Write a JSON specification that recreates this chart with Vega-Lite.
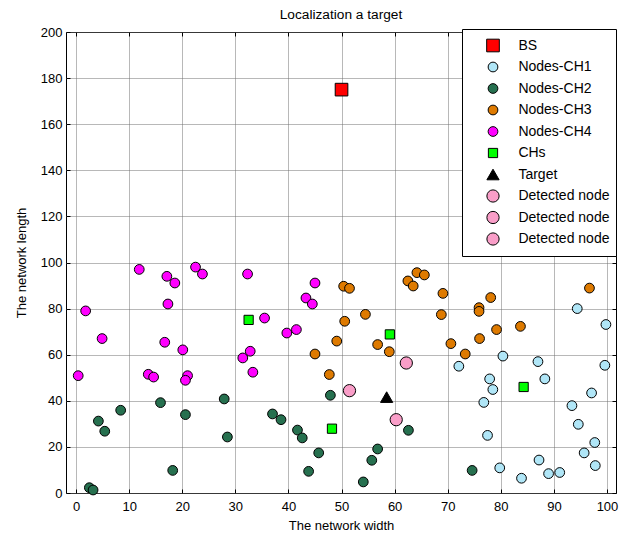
{
  "$schema": "https://vega.github.io/schema/vega-lite/v6.json",
  "width": 550,
  "height": 461,
  "autosize": {"type": "none"},
  "padding": {"left": 66, "top": 32, "right": 11, "bottom": 42},
  "title": {"text": "Localization a target", "font": "Liberation Sans", "fontSize": 13.7, "fontWeight": "normal", "color": "black", "frame": "group", "anchor": "middle", "offset": 4},
  "config": {
    "view": {"stroke": "black", "strokeWidth": 1},
    "axis": {"labelFont": "Liberation Sans", "titleFont": "Liberation Sans", "labelColor": "black", "titleColor": "black", "titleFontWeight": "normal", "tickColor": "black", "domain": false},
    "legend": {"strokeWidth": 1}
  },
  "data": {"values": [
    {"x": 50, "y": 175, "group": "BS"},
    {"x": 72.1, "y": 55.0, "group": "Nodes-CH1"},
    {"x": 80.4, "y": 59.4, "group": "Nodes-CH1"},
    {"x": 87.0, "y": 57.0, "group": "Nodes-CH1"},
    {"x": 99.6, "y": 55.4, "group": "Nodes-CH1"},
    {"x": 94.4, "y": 80.0, "group": "Nodes-CH1"},
    {"x": 99.8, "y": 73.1, "group": "Nodes-CH1"},
    {"x": 77.9, "y": 49.5, "group": "Nodes-CH1"},
    {"x": 88.3, "y": 49.5, "group": "Nodes-CH1"},
    {"x": 78.5, "y": 44.9, "group": "Nodes-CH1"},
    {"x": 97.1, "y": 43.4, "group": "Nodes-CH1"},
    {"x": 76.8, "y": 39.3, "group": "Nodes-CH1"},
    {"x": 93.4, "y": 37.9, "group": "Nodes-CH1"},
    {"x": 94.6, "y": 29.8, "group": "Nodes-CH1"},
    {"x": 77.5, "y": 25.0, "group": "Nodes-CH1"},
    {"x": 97.7, "y": 21.9, "group": "Nodes-CH1"},
    {"x": 95.7, "y": 17.4, "group": "Nodes-CH1"},
    {"x": 87.2, "y": 14.3, "group": "Nodes-CH1"},
    {"x": 97.8, "y": 11.9, "group": "Nodes-CH1"},
    {"x": 79.8, "y": 10.9, "group": "Nodes-CH1"},
    {"x": 91.1, "y": 8.9, "group": "Nodes-CH1"},
    {"x": 89.0, "y": 8.4, "group": "Nodes-CH1"},
    {"x": 83.9, "y": 6.4, "group": "Nodes-CH1"},
    {"x": 8.4, "y": 35.9, "group": "Nodes-CH2"},
    {"x": 4.2, "y": 31.2, "group": "Nodes-CH2"},
    {"x": 5.4, "y": 26.8, "group": "Nodes-CH2"},
    {"x": 15.9, "y": 39.2, "group": "Nodes-CH2"},
    {"x": 20.6, "y": 34.0, "group": "Nodes-CH2"},
    {"x": 18.2, "y": 9.8, "group": "Nodes-CH2"},
    {"x": 2.5, "y": 2.3, "group": "Nodes-CH2"},
    {"x": 3.2, "y": 1.3, "group": "Nodes-CH2"},
    {"x": 27.9, "y": 40.8, "group": "Nodes-CH2"},
    {"x": 28.5, "y": 24.3, "group": "Nodes-CH2"},
    {"x": 37.0, "y": 34.3, "group": "Nodes-CH2"},
    {"x": 38.6, "y": 31.8, "group": "Nodes-CH2"},
    {"x": 41.7, "y": 27.3, "group": "Nodes-CH2"},
    {"x": 42.6, "y": 23.9, "group": "Nodes-CH2"},
    {"x": 45.7, "y": 17.4, "group": "Nodes-CH2"},
    {"x": 43.8, "y": 9.4, "group": "Nodes-CH2"},
    {"x": 47.9, "y": 42.4, "group": "Nodes-CH2"},
    {"x": 62.6, "y": 27.2, "group": "Nodes-CH2"},
    {"x": 56.8, "y": 19.1, "group": "Nodes-CH2"},
    {"x": 55.7, "y": 14.2, "group": "Nodes-CH2"},
    {"x": 54.1, "y": 4.8, "group": "Nodes-CH2"},
    {"x": 74.6, "y": 9.8, "group": "Nodes-CH2"},
    {"x": 45.0, "y": 60.3, "group": "Nodes-CH3"},
    {"x": 64.2, "y": 95.6, "group": "Nodes-CH3"},
    {"x": 65.6, "y": 94.6, "group": "Nodes-CH3"},
    {"x": 62.5, "y": 92.0, "group": "Nodes-CH3"},
    {"x": 63.5, "y": 89.8, "group": "Nodes-CH3"},
    {"x": 69.1, "y": 86.6, "group": "Nodes-CH3"},
    {"x": 50.4, "y": 89.7, "group": "Nodes-CH3"},
    {"x": 51.5, "y": 88.8, "group": "Nodes-CH3"},
    {"x": 54.5, "y": 77.5, "group": "Nodes-CH3"},
    {"x": 50.6, "y": 74.5, "group": "Nodes-CH3"},
    {"x": 68.8, "y": 77.4, "group": "Nodes-CH3"},
    {"x": 49.1, "y": 65.9, "group": "Nodes-CH3"},
    {"x": 56.8, "y": 64.4, "group": "Nodes-CH3"},
    {"x": 59.0, "y": 61.3, "group": "Nodes-CH3"},
    {"x": 70.6, "y": 64.8, "group": "Nodes-CH3"},
    {"x": 47.7, "y": 51.4, "group": "Nodes-CH3"},
    {"x": 96.7, "y": 88.9, "group": "Nodes-CH3"},
    {"x": 78.1, "y": 84.8, "group": "Nodes-CH3"},
    {"x": 75.9, "y": 80.4, "group": "Nodes-CH3"},
    {"x": 75.9, "y": 78.8, "group": "Nodes-CH3"},
    {"x": 79.2, "y": 70.9, "group": "Nodes-CH3"},
    {"x": 83.7, "y": 72.3, "group": "Nodes-CH3"},
    {"x": 76.0, "y": 67.0, "group": "Nodes-CH3"},
    {"x": 73.3, "y": 60.3, "group": "Nodes-CH3"},
    {"x": 11.9, "y": 97.0, "group": "Nodes-CH4"},
    {"x": 17.1, "y": 94.0, "group": "Nodes-CH4"},
    {"x": 18.6, "y": 91.1, "group": "Nodes-CH4"},
    {"x": 22.5, "y": 98.0, "group": "Nodes-CH4"},
    {"x": 23.8, "y": 95.0, "group": "Nodes-CH4"},
    {"x": 1.8, "y": 79.0, "group": "Nodes-CH4"},
    {"x": 17.3, "y": 82.0, "group": "Nodes-CH4"},
    {"x": 4.9, "y": 67.0, "group": "Nodes-CH4"},
    {"x": 16.7, "y": 65.4, "group": "Nodes-CH4"},
    {"x": 20.1, "y": 62.1, "group": "Nodes-CH4"},
    {"x": 0.4, "y": 50.9, "group": "Nodes-CH4"},
    {"x": 13.6, "y": 51.5, "group": "Nodes-CH4"},
    {"x": 14.6, "y": 50.3, "group": "Nodes-CH4"},
    {"x": 21.0, "y": 50.9, "group": "Nodes-CH4"},
    {"x": 20.6, "y": 48.9, "group": "Nodes-CH4"},
    {"x": 32.3, "y": 95.0, "group": "Nodes-CH4"},
    {"x": 45.0, "y": 91.1, "group": "Nodes-CH4"},
    {"x": 43.3, "y": 84.6, "group": "Nodes-CH4"},
    {"x": 44.5, "y": 82.0, "group": "Nodes-CH4"},
    {"x": 35.5, "y": 75.9, "group": "Nodes-CH4"},
    {"x": 39.7, "y": 69.4, "group": "Nodes-CH4"},
    {"x": 41.5, "y": 70.9, "group": "Nodes-CH4"},
    {"x": 32.8, "y": 61.5, "group": "Nodes-CH4"},
    {"x": 31.4, "y": 58.6, "group": "Nodes-CH4"},
    {"x": 33.3, "y": 52.4, "group": "Nodes-CH4"},
    {"x": 32.5, "y": 75.1, "group": "CHs"},
    {"x": 59.1, "y": 68.8, "group": "CHs"},
    {"x": 48.2, "y": 27.9, "group": "CHs"},
    {"x": 84.3, "y": 46.0, "group": "CHs"},
    {"x": 58.5, "y": 41.6, "group": "Target"},
    {"x": 62.2, "y": 56.4, "group": "Detected node 1"},
    {"x": 51.5, "y": 44.4, "group": "Detected node 2"},
    {"x": 60.3, "y": 31.8, "group": "Detected node 3"}
  ]},
  "layer": [
    {
      "mark": {"type": "point", "filled": true, "stroke": "black", "strokeWidth": 1, "opacity": 1},
      "encoding": {
        "x": {"field": "x", "type": "quantitative",
          "scale": {"domain": [-1.9, 101.7], "nice": false, "zero": false},
          "axis": {"orient": "bottom", "values": [0,10,20,30,40,50,60,70,80,90,100], "title": "The network width", "titleFontSize": 13, "titlePadding": 6, "labelFontSize": 13, "labelPadding": 11, "tickSize": -4, "labelFlush": false, "grid": true, "gridColor": "#707070", "gridDash": [1, 1]}},
        "y": {"field": "y", "type": "quantitative",
          "scale": {"domain": [0, 200], "nice": false, "zero": false},
          "axis": {"orient": "left", "values": [0,20,40,60,80,100,120,140,160,180,200], "title": "The network length", "titleFontSize": 13, "titlePadding": 12, "labelFontSize": 13, "labelPadding": 8, "tickSize": -4, "labelFlush": false, "grid": true, "gridColor": "#707070", "gridDash": [1, 1]}},
        "fill": {"field": "group", "type": "nominal",
          "scale": {"domain": ["BS","Nodes-CH1","Nodes-CH2","Nodes-CH3","Nodes-CH4","CHs","Target","Detected node 1","Detected node 2","Detected node 3"],
                    "range": ["#ff0000","#b0e6f7","#26704f","#de7a00","#ff00ff","#00ff00","#000000","#f99ec8","#f99ec8","#f99ec8"]},
          "legend": {"title": null, "orient": "none", "legendX": 396, "legendY": -3, "strokeColor": "black", "fillColor": "white", "padding": 6, "labelFont": "Liberation Sans", "labelFontSize": 14, "labelColor": "black", "symbolStrokeColor": "black", "symbolStrokeWidth": 1, "symbolOpacity": 1, "clipHeight": 21, "rowPadding": 0.5, "symbolOffset": 18, "labelOffset": 18.4, "labelExpr": "indexof(datum.label, 'Detected') == 0 ? 'Detected node' : datum.label"}},
        "shape": {"field": "group", "type": "nominal",
          "scale": {"domain": ["BS","Nodes-CH1","Nodes-CH2","Nodes-CH3","Nodes-CH4","CHs","Target","Detected node 1","Detected node 2","Detected node 3"],
                    "range": ["square","circle","circle","circle","circle","square","triangle-up","circle","circle","circle"]}},
        "size": {"field": "group", "type": "nominal",
          "scale": {"type": "ordinal", "domain": ["BS","Nodes-CH1","Nodes-CH2","Nodes-CH3","Nodes-CH4","CHs","Target","Detected node 1","Detected node 2","Detected node 3"],
                    "range": [160,95,95,95,95,85,150,150,150,150]}}
      }
    },
    {
      "mark": {"type": "point", "opacity": 0},
      "encoding": {
        "x": {"field": "x", "type": "quantitative", "axis": {"orient": "top", "values": [0,10,20,30,40,50,60,70,80,90,100], "labels": false, "title": null, "tickSize": -4, "grid": false}},
        "y": {"field": "y", "type": "quantitative", "axis": {"orient": "right", "values": [0,20,40,60,80,100,120,140,160,180,200], "labels": false, "title": null, "tickSize": -4, "grid": false}}
      }
    }
  ],
  "resolve": {"axis": {"x": "independent", "y": "independent"}}
}
